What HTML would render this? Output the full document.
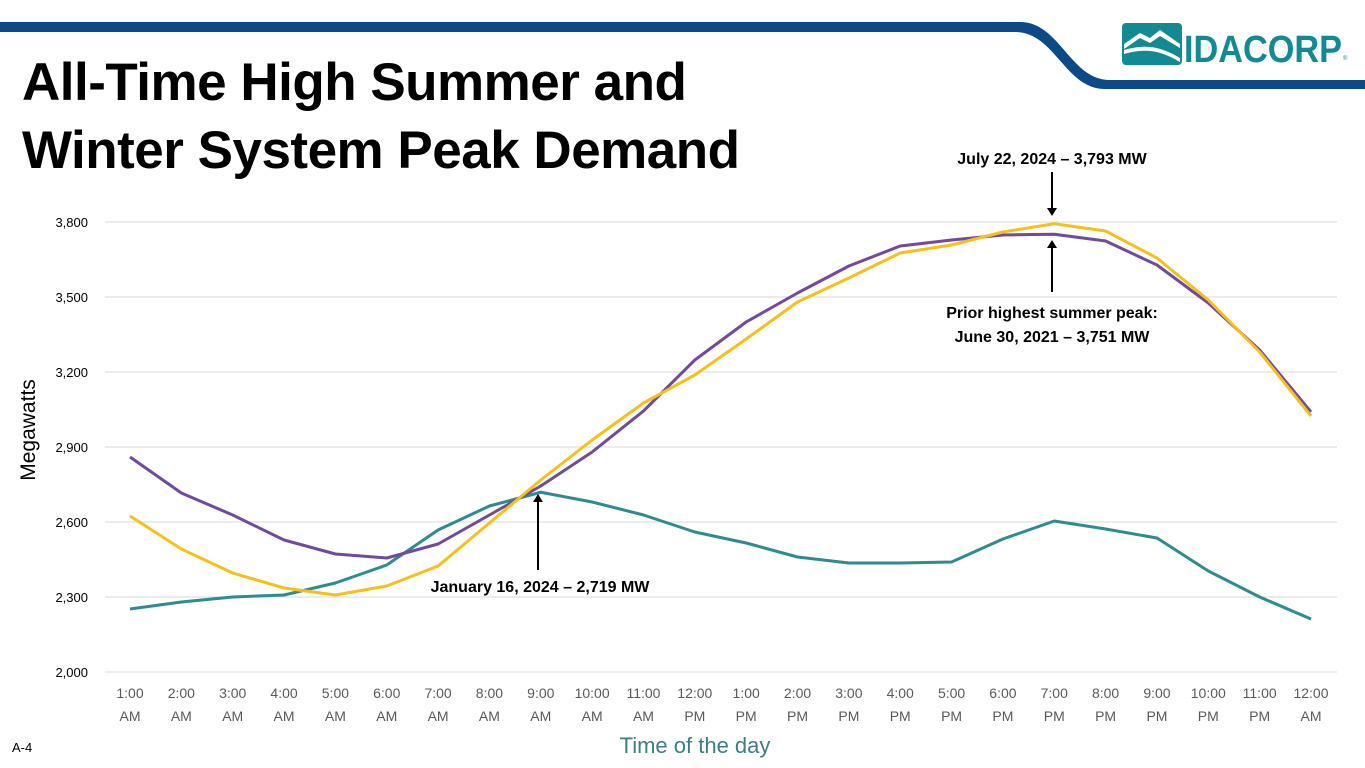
<!DOCTYPE html>
<html><head><meta charset="utf-8">
<style>
body{margin:0;width:1365px;height:768px;background:#fff;overflow:hidden;font-family:"Liberation Sans",sans-serif;position:relative}
.title{position:absolute;left:22px;top:49px;font-size:53px;font-weight:bold;line-height:68px;color:#000;letter-spacing:-0.5px}
svg{position:absolute;left:0;top:0}
</style></head><body>
<svg width="1365" height="768">
  <path d="M0 22 H1020 C1060 22 1070 80 1110 80 H1365 V89 H1105 C1065 89 1055 32 1015 32 H0 Z" fill="#0b4a86"/>
  <g>
    <rect x="1122" y="23" width="60" height="42" rx="4" fill="#138a93"/>
    <path d="M1124 44 L1140 33 L1150 38 L1160 30 L1180 44 L1180 48 L1160 36 L1150 43 L1140 38 L1124 49Z" fill="#fff"/>
    <path d="M1124 54 C1145 48 1160 50 1180 62 L1180 58 C1160 46 1145 44 1124 50Z" fill="#fff"/>
    <text x="1184" y="62" font-size="38" font-weight="bold" fill="#138a93" textLength="158" lengthAdjust="spacingAndGlyphs">IDACORP</text>
    <text x="1343" y="60" font-size="6" fill="#138a93">®</text>
  </g>
  <g id="grid"></g>
  <g id="series"></g>
  <g id="ann" font-family="Liberation Sans" font-weight="bold" font-size="16" fill="#000">
    <text x="1052" y="164" text-anchor="middle">July 22, 2024 – 3,793 MW</text>
    <line x1="1052" y1="172" x2="1052" y2="210" stroke="#000" stroke-width="2"/>
    <path d="M1047 208 L1057 208 L1052 216Z" fill="#000"/>
    <line x1="1052" y1="292" x2="1052" y2="246" stroke="#000" stroke-width="2"/>
    <path d="M1047 248 L1057 248 L1052 240Z" fill="#000"/>
    <text x="1052" y="318" text-anchor="middle">Prior highest summer peak:</text>
    <text x="1052" y="342" text-anchor="middle">June 30, 2021 – 3,751 MW</text>
    <line x1="538" y1="570" x2="538" y2="500" stroke="#000" stroke-width="2"/>
    <path d="M533 502 L543 502 L538 494Z" fill="#000"/>
    <text x="540" y="592" text-anchor="middle">January 16, 2024 – 2,719 MW</text>
  </g>
  <text x="35" y="430" font-size="21" fill="#000" transform="rotate(-90 35 430)" text-anchor="middle">Megawatts</text>
  <text x="695" y="753" font-size="22" fill="#3d7e86" text-anchor="middle">Time of the day</text>
  <text x="12" y="752" font-size="13" fill="#000">A-4</text>
</svg>
<div class="title">All-Time High Summer and<br>Winter System Peak Demand</div>
<script>
const hours=["1:00","2:00","3:00","4:00","5:00","6:00","7:00","8:00","9:00","10:00","11:00","12:00","1:00","2:00","3:00","4:00","5:00","6:00","7:00","8:00","9:00","10:00","11:00","12:00"];
const meridiem=["AM","AM","AM","AM","AM","AM","AM","AM","AM","AM","AM","PM","PM","PM","PM","PM","PM","PM","PM","PM","PM","PM","PM","AM"];
const yTicks=[2000,2300,2600,2900,3200,3500,3800];
const winter2024=[2252,2280,2300,2308,2356,2428,2568,2664,2719,2680,2628,2560,2516,2460,2436,2436,2440,2532,2604,2572,2536,2404,2300,2212];
const summer2021=[2860,2716,2628,2528,2472,2456,2512,2628,2744,2880,3044,3248,3400,3516,3624,3704,3728,3748,3751,3724,3628,3476,3288,3040];
const summer2024=[2624,2492,2396,2336,2308,2344,2424,2596,2768,2928,3076,3188,3332,3480,3576,3676,3708,3760,3793,3764,3656,3488,3280,3024];
const NS="http://www.w3.org/2000/svg";
const x=i=>130+i*(1311-130)/(hours.length-1);
const y=v=>672-(v-2000)*(450/1800);
const grid=document.getElementById('grid');
function mk(t,a,p){const e=document.createElementNS(NS,t);for(const k in a)e.setAttribute(k,a[k]);p.appendChild(e);return e;}
yTicks.forEach(v=>{
  const l=mk('line',{x1:105,x2:1337,y1:y(v),y2:y(v),stroke:'#d9d9d9','stroke-width':1},grid);
  
  
  const t=mk('text',{x:88,y:y(v)+5,'font-size':13,'text-anchor':'end',fill:'#000'},grid);
  
  
  t.textContent=v.toLocaleString('en-US');
});
hours.forEach((h,i)=>{
  const t=mk('text',{x:x(i),y:698,'font-size':14,'text-anchor':'middle',fill:'#595959'},grid);
  
  
  t.textContent=h;
  const t2=mk('text',{x:x(i),y:721,'font-size':14,'text-anchor':'middle',fill:'#595959'},grid);
  
  
  t2.textContent=meridiem[i];
});
const sg=document.getElementById('series');
[[winter2024,'#2e8b8f','winter-2024-line'],[summer2021,'#6f4a9e','summer-2021-line'],[summer2024,'#f5c01a','summer-2024-line']].forEach(([d,c,n])=>{
  const p=mk('polyline',{points:d.map((v,i)=>x(i)+','+y(v)).join(' '),fill:'none',stroke:c,'stroke-width':3,'stroke-linejoin':'round'},sg);
  
  
});
</script>
</body></html>
